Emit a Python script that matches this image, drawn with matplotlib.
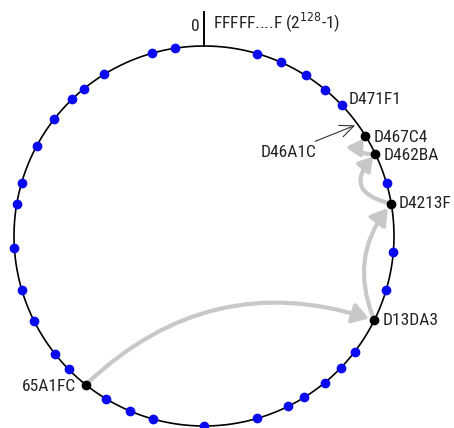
import numpy as np
import matplotlib.pyplot as plt
from matplotlib.patches import FancyArrowPatch

plt.rcParams['font.family'] = ['Liberation Sans Narrow', 'Roboto Condensed', 'DejaVu Sans']
plt.rcParams['font.stretch'] = 'condensed'
plt.rcParams['mathtext.fontset'] = 'custom'
plt.rcParams['mathtext.rm'] = 'DejaVu Sans:stretch=condensed'

# ring positions, degrees clockwise from the top (0 = 0 / 2^128-1)
blue_nodes = [16.2, 24.0, 32.3, 39.6, 46.5, 73.9, 94.8, 106.4, 127.6, 133.9,
              140.5, 148.2, 153.8, 163.8, 180.0, 195.7, 202.8, 210.9, 225.4,
              231.7, 243.4, 253.4, 266.4, 279.7, 286.2, 298.2, 308.1, 316.1,
              320.8, 328.3, 344.0, 351.2]
black_names = ['D467C4', 'D462BA', 'D4213F', 'D13DA3', '65A1FC']
black_nodes = [58.2, 64.4, 80.2, 116.3, 218.5]
extra_label = ('D471F1', 46.5)
lookup_key = ('D46A1C', 54.0)
# lookup route 65A1FC -> D13DA3 -> D4213F -> D462BA -> D467C4
route = ['65A1FC', 'D13DA3', 'D4213F', 'D462BA', 'D467C4']
route_bend = [-0.3, -0.3, -0.85, -1.1]


def pos(deg):
    t = np.radians(deg)
    return np.sin(t), np.cos(t)


fig = plt.figure(figsize=(4.54, 4.28), dpi=100)
ax = fig.add_axes([0, 0, 1, 1])
R = 190.0
ax.set_xlim(-204 / R, 250 / R)
ax.set_ylim(-192 / R, 236 / R)
ax.set_aspect('equal')
ax.axis('off')

fs = 12.5
tc = '#222222'
th = np.linspace(0, 2 * np.pi, 400)
ax.plot(np.sin(th), np.cos(th), color='black', lw=1.2, zorder=2)
ax.plot([0, 0], [1, 1 + 34 / R], color='black', lw=1.4, zorder=2)
ax.text(-0.025, 1.065, '0', ha='right', va='bottom', fontsize=fs, color=tc)
ax.text(0.045, 1.065, r'FFFFF....F (2$^{128}$-1)', ha='left', va='bottom',
        fontsize=fs, color=tc)

bx, by = pos(np.array(blue_nodes))
ax.plot(bx, by, 'o', color='#0a0af0', ms=6, mec='#0a0af0', zorder=4)
kx, ky = pos(np.array(black_nodes))
ax.plot(kx, ky, 'o', color='black', ms=6, zorder=4)

# gray routing arrows
lookup = dict(zip(black_names, black_nodes))
for i, ((a, b), rad) in enumerate(zip(zip(route[:-1], route[1:]), route_bend)):
    small = i >= 2
    arr = FancyArrowPatch(pos(lookup[a]), pos(lookup[b]),
                          connectionstyle=f'arc3,rad={rad}',
                          arrowstyle='-|>,head_length=0.8,head_width=0.5',
                          mutation_scale=10 if small else 12,
                          color='#c8c8c8', lw=3,
                          shrinkA=3, shrinkB=2.5 if small else 4, zorder=3)
    ax.add_patch(arr)

offsets = {'D467C4': (6, -1), 'D462BA': (6, -1), 'D4213F': (5, 0),
           'D13DA3': (6, 0), '65A1FC': (-7, -1)}
for name, deg in zip(black_names, black_nodes):
    ox, oy = offsets[name]
    ax.annotate(name, pos(deg), xytext=(ox, oy), textcoords='offset points',
                ha='right' if ox < 0 else 'left', va='center', fontsize=fs,
                color=tc)
ax.annotate(extra_label[0], pos(extra_label[1]), xytext=(5, 4),
            textcoords='offset points', ha='left', va='center', fontsize=fs,
            color=tc)

# key being looked up
ax.annotate(lookup_key[0], pos(lookup_key[1]), xytext=(-30, -20),
            textcoords='offset points', ha='right', va='center', fontsize=fs,
            color=tc,
            arrowprops=dict(arrowstyle='->,head_length=0.8,head_width=0.35',
                            color='#333333', lw=0.8, shrinkA=1, shrinkB=2))

fig.savefig('out.png', dpi=100)
